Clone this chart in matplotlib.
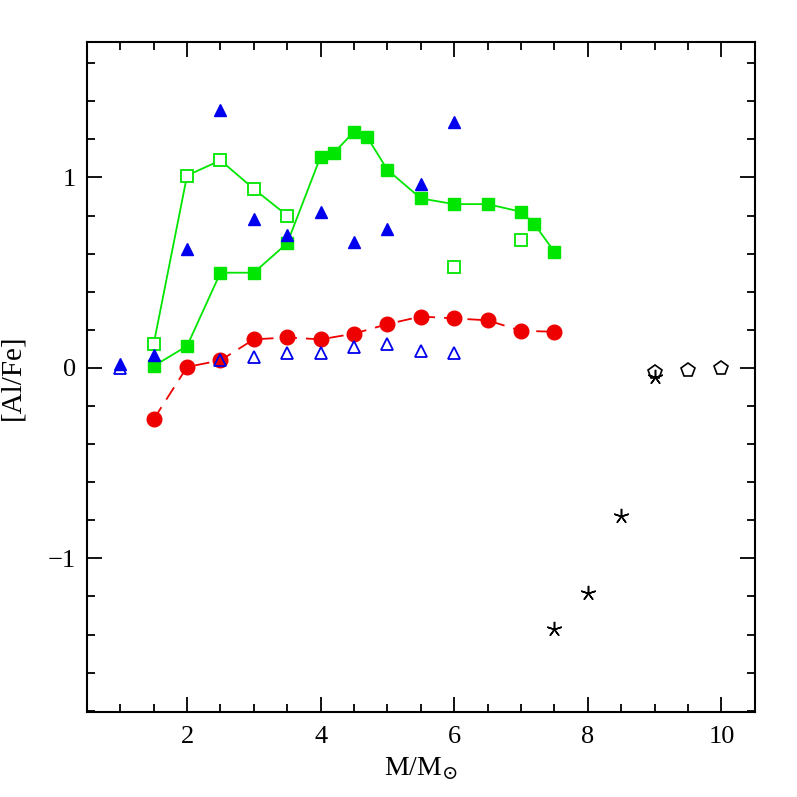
import matplotlib
matplotlib.use("Agg")
from matplotlib import pyplot as plt
from matplotlib.ticker import MultipleLocator

# red dashed, filled circles
m_red = [1.5, 2, 2.5, 3, 3.5, 4, 4.5, 5, 5.5, 6, 6.5, 7, 7.5]
al_red = [-0.27, 0.005, 0.04, 0.15, 0.16, 0.15, 0.18, 0.23, 0.27, 0.26, 0.25, 0.195, 0.19]

# green solid, filled squares
m_gf = [1.5, 2, 2.5, 3, 3.5, 4, 4.2, 4.5, 4.7, 5, 5.5, 6, 6.5, 7, 7.2, 7.5]
al_gf = [0.01, 0.115, 0.50, 0.50, 0.655, 1.11, 1.13, 1.24, 1.21, 1.04, 0.89, 0.86, 0.86, 0.82, 0.755, 0.61]

# green solid, open squares
m_go = [1.5, 2, 2.5, 3, 3.5]
al_go = [0.125, 1.01, 1.09, 0.94, 0.80]
m_go2 = [6, 7]
al_go2 = [0.53, 0.67]

# blue triangles
m_bf = [1, 1.5, 2, 2.5, 3, 3.5, 4, 4.5, 5, 5.5, 6]
al_bf = [0.02, 0.07, 0.625, 1.355, 0.78, 0.70, 0.82, 0.66, 0.73, 0.965, 1.29]
m_bo = [1, 2.5, 3, 3.5, 4, 4.5, 5, 5.5, 6]
al_bo = [0.0, 0.04, 0.06, 0.08, 0.08, 0.11, 0.125, 0.09, 0.08]

# black stars and pentagons
m_star = [7.5, 8, 8.5, 9]
al_star = [-1.37, -1.18, -0.78, -0.05]
m_pent = [9, 9.5, 10]
al_pent = [-0.02, -0.01, 0.0]

plt.rcParams['font.family'] = ['Liberation Serif', 'DejaVu Serif']
plt.rcParams['mathtext.fontset'] = 'dejavuserif'

fig = plt.figure(figsize=(7.97, 7.97), dpi=100)
ax = fig.add_axes([0.109, 0.107, 0.838, 0.840])

green = '#00e600'
blue = '#0000ee'
red = '#ee0000'
ax.plot(m_go, al_go, '-', color=green, lw=1.3, marker='s', ms=8, mfc='white', mec=green, mew=1.3)
ax.plot(m_go2, al_go2, 's', ms=8, mfc='white', mec=green, mew=1.3)
ax.plot(m_gf, al_gf, '-', color=green, lw=1.3, marker='s', ms=9, mfc=green, mec=green)
ax.plot(m_bf, al_bf, '^', ms=8, color=blue)
ax.plot(m_red, al_red, '--', color=red, lw=1.3, dashes=(8, 5), marker='o', ms=10.5,
        mfc=red, mec=red)
ax.plot(m_bo, al_bo, '^', ms=8, mfc='none', mec=blue, mew=1.3)
ax.plot(m_star, al_star, ls='none', marker=(5, 2, 0), ms=11, mec='black', mew=1.1)
ax.plot(m_pent, al_pent, 'p', ms=10, mfc='none', mec='black', mew=1.2)

ax.set_xlim(0.5, 10.5)
ax.set_ylim(-1.805, 1.71)
ax.xaxis.set_major_locator(MultipleLocator(2))
ax.xaxis.set_minor_locator(MultipleLocator(0.5))
ax.set_yticks([-1, 0, 1])
ax.set_yticklabels(['\u22121', '0', '1'])
ax.yaxis.set_minor_locator(MultipleLocator(0.2))
ax.tick_params(which='both', direction='in', top=True, right=True, width=1.3, labelsize=19)
ax.tick_params(which='major', length=11)
ax.tick_params(which='minor', length=6)
ax.tick_params(axis='x', pad=10)
ax.tick_params(axis='y', pad=8)
for s in ax.spines.values():
    s.set_linewidth(1.5)

ax.set_xlabel(r'M/M$_{\odot}$', fontsize=20, labelpad=6)
ax.set_ylabel('[Al/Fe]', fontsize=21, labelpad=16)

fig.savefig('out.png', dpi=100)
